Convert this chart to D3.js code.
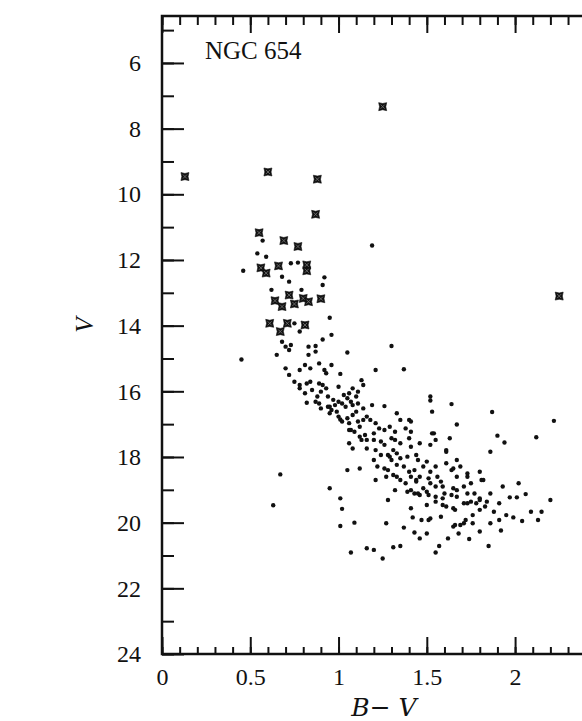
<!DOCTYPE html>
<html>
<head>
<meta charset="utf-8">
<script src="https://cdn.jsdelivr.net/npm/d3@7"></script>
<style>
  html, body { margin: 0; padding: 0; background: #fff; }
  svg { display: block; }
  text { font-family: "Liberation Serif", "DejaVu Serif", serif; fill: #111; }
</style>
</head>
<body>
<div id="chart"></div>
<script>
// NGC 654 colour-magnitude diagram, values as [B-V, V]
const clusterName = 'NGC 654';
const xTicksMajor = [0, 0.5, 1, 1.5, 2, 2.5];
const xTickLabels = ['0', '0.5', '1', '1.5', '2', ''];
const yTicksMajor = [6, 8, 10, 12, 14, 16, 18, 20, 22, 24];

// stars drawn with the big cross symbol
const brightStars = [
  [1.25, 7.33], [0.13, 9.46], [0.60, 9.32], [0.88, 9.54], [0.87, 10.61],
  [0.55, 11.17], [0.69, 11.41], [0.77, 11.59], [0.56, 12.24], [0.59, 12.40],
  [0.66, 12.18], [0.82, 12.15], [0.82, 12.33], [0.90, 13.18], [2.25, 13.10],
  [0.64, 13.24], [0.68, 13.42], [0.72, 13.07], [0.75, 13.34], [0.80, 13.17],
  [0.83, 13.27], [0.61, 13.93], [0.67, 14.18], [0.71, 13.93], [0.81, 13.98]
];

// small dots, upper main sequence (V < 15.1)
const upperDots = [
  [1.19, 11.56], [0.57, 11.41], [0.54, 11.80], [0.59, 11.90], [0.46, 12.33],
  [0.73, 12.10], [0.77, 12.08], [0.68, 12.51], [0.72, 12.66], [0.92, 12.53],
  [0.91, 12.76], [0.62, 12.91], [0.79, 12.91], [0.95, 13.76], [0.96, 14.28],
  [0.91, 14.42], [0.75, 13.93], [0.78, 14.18], [0.68, 14.49], [0.70, 14.64],
  [0.72, 14.74], [0.73, 14.59], [0.83, 14.64], [0.87, 14.62], [0.83, 14.89],
  [0.87, 14.79], [0.65, 14.89], [1.05, 14.82], [1.30, 14.62], [0.45, 15.03]
];

// small dots, V 15.1 - 18.1
const middleDots = [
  [0.70, 15.30], [0.72, 15.50], [0.78, 15.35], [0.81, 15.20], [0.84, 15.30],
  [0.89, 15.15], [0.92, 15.35], [0.93, 15.45], [0.96, 15.20], [1.01, 15.47],
  [1.21, 15.35], [1.37, 15.33], [0.75, 15.71], [0.78, 15.81], [0.81, 16.06],
  [0.84, 15.71], [0.85, 15.96], [0.89, 15.76], [0.90, 16.01], [0.91, 15.81],
  [0.93, 15.91], [0.94, 16.16], [1.00, 15.86], [1.00, 16.32], [1.03, 16.11],
  [1.06, 16.06], [1.08, 15.91], [1.11, 16.01], [1.14, 15.81], [1.13, 15.66],
  [0.82, 16.35], [0.87, 16.32], [0.89, 16.37], [0.94, 16.47], [0.96, 16.57],
  [0.98, 16.42], [1.02, 16.37], [1.04, 16.47], [1.07, 16.32], [1.08, 16.42],
  [1.11, 16.37], [1.14, 16.52], [1.19, 16.42], [1.26, 16.45], [0.95, 16.67],
  [1.00, 16.77], [1.02, 16.92], [1.05, 16.82], [1.06, 16.97], [1.08, 16.72],
  [1.11, 16.92], [1.14, 16.87], [1.18, 16.87], [1.21, 16.97], [1.23, 17.13],
  [1.26, 17.18], [1.29, 17.08], [1.33, 16.67], [1.35, 16.87], [1.40, 16.87],
  [1.06, 17.18], [1.09, 17.23], [1.12, 17.38], [1.16, 17.48], [1.15, 17.33],
  [1.20, 17.48], [1.24, 17.53], [1.26, 17.63], [1.30, 17.43], [1.31, 17.79],
  [1.33, 17.89], [1.06, 17.58], [1.08, 17.74], [1.16, 17.74], [1.21, 17.79],
  [1.24, 17.94], [1.28, 17.94], [1.30, 18.09], [1.52, 16.16], [1.52, 16.28],
  [1.53, 16.62], [1.64, 16.39], [1.67, 17.01], [1.32, 17.23], [1.38, 17.13],
  [1.41, 17.23], [1.54, 17.28], [1.35, 17.58], [1.40, 17.43], [1.41, 17.69],
  [1.46, 17.58], [1.52, 17.63], [1.55, 17.48], [1.61, 17.79], [1.63, 17.43],
  [1.35, 18.04], [1.39, 17.99], [1.44, 17.94], [1.94, 17.56], [1.86, 17.84],
  [1.90, 17.35], [2.12, 17.40], [2.22, 16.90], [1.87, 16.63]
];

// small dots, lower main sequence (V > 18.1)
const lowerDots = [
  [1.50, 18.14], [1.55, 18.29], [1.61, 18.19], [1.67, 18.09], [1.69, 18.29],
  [1.20, 18.09], [1.22, 18.29], [1.26, 18.35], [1.33, 18.24], [1.37, 18.29],
  [1.40, 18.45], [1.43, 18.40], [1.46, 18.60], [1.48, 18.29], [1.52, 18.45],
  [1.56, 18.60], [1.58, 18.75], [1.64, 18.40], [1.67, 18.60], [1.73, 18.60],
  [1.05, 18.40], [1.12, 18.35], [1.21, 18.70], [1.27, 18.60], [1.31, 18.55],
  [1.35, 18.70], [1.38, 18.80], [1.41, 18.60], [1.44, 18.75], [1.48, 18.95],
  [1.52, 18.80], [1.55, 18.90], [1.59, 18.90], [1.65, 18.95], [1.71, 18.90],
  [0.95, 18.95], [1.01, 19.26], [1.32, 19.01], [1.39, 19.06], [1.43, 19.11],
  [1.46, 19.16], [1.50, 19.06], [1.55, 19.21], [1.60, 19.11], [1.64, 19.16],
  [1.67, 19.01], [0.67, 18.53], [0.63, 19.47], [1.02, 19.58], [1.01, 20.10],
  [1.09, 20.00], [1.73, 18.50], [1.80, 18.45], [1.82, 18.70], [1.75, 18.80],
  [1.86, 19.11], [1.93, 18.90], [2.02, 18.80], [1.97, 19.23], [2.01, 19.23],
  [2.06, 19.13], [2.20, 19.31], [2.09, 19.67], [2.15, 19.67], [2.13, 19.92],
  [2.04, 19.95], [1.99, 19.84], [1.95, 19.77], [1.91, 19.41], [1.88, 19.67],
  [1.91, 19.92], [1.86, 20.02], [1.80, 20.27], [1.92, 20.24], [1.85, 20.71],
  [1.74, 20.50], [1.68, 20.33], [1.62, 20.48], [1.57, 20.71], [1.55, 20.91],
  [1.46, 20.48], [1.43, 20.30], [1.37, 20.15], [1.27, 20.02], [1.35, 20.71],
  [1.31, 20.75], [1.25, 21.09], [1.65, 20.12], [1.69, 20.07], [1.72, 19.92],
  [1.76, 19.77], [1.80, 19.61], [1.83, 19.51], [1.78, 19.41], [1.75, 19.36],
  [1.71, 19.41], [1.66, 19.61], [1.61, 19.51], [1.58, 19.82], [1.52, 19.87],
  [1.47, 19.92], [1.42, 19.84], [1.41, 19.56], [1.50, 19.46], [1.55, 19.36],
  [1.59, 19.26], [1.73, 19.11], [1.77, 19.11], [1.80, 19.26], [1.84, 19.36],
  [1.28, 19.31], [1.07, 20.91], [1.16, 20.78], [1.20, 20.83], [1.50, 20.33]
];

// extra stars inside the crowded band (overlapping blobs)
const bandDots = [
  [1.29, 17.99], [1.13, 17.48], [1.32, 17.48], [1.45, 18.09], [1.28, 18.40],
  [1.33, 18.60], [1.44, 18.70], [1.51, 18.65], [1.41, 19.01], [1.45, 19.11],
  [1.51, 19.16], [1.59, 19.46], [1.65, 19.56], [1.51, 19.92], [1.66, 20.07],
  [1.71, 20.02], [1.76, 20.02], [1.67, 19.21], [1.73, 19.41], [1.80, 19.31],
  [1.81, 18.70], [1.65, 18.35], [1.61, 17.84], [1.53, 17.28], [1.41, 16.92],
  [1.07, 17.18], [1.01, 16.86], [0.95, 16.47], [0.78, 15.91], [0.82, 15.76],
  [0.88, 16.16], [0.97, 16.26], [1.05, 16.21], [1.10, 16.16], [0.90, 16.52],
  [0.99, 16.62], [1.10, 16.62], [1.16, 16.77], [1.12, 17.08], [1.20, 17.28]
];

const width = 582, height = 721;
const plotLeft = 162, plotTop = 16, plotBottom = 654, plotRight = 621;

const svg = d3.select('#chart').append('svg')
  .attr('width', width)
  .attr('height', height);

const x = d3.scaleLinear().domain([0, 2.6]).range([plotLeft, plotRight]);
const y = d3.scaleLinear().domain([4.57, 24]).range([plotTop, plotBottom]);

const minorX = d3.range(0, 27).map(i => i / 10);
const minorY = d3.range(5, 25);

function styleAxis(g) {
  g.select('.domain').remove();
  g.selectAll('line').attr('stroke', '#111').attr('stroke-width', 2);
  g.selectAll('text').attr('font-size', 24).attr('fill', '#111')
    .style('font-family', '"Liberation Serif", serif');
}

// bottom axis (ticks point inward)
svg.append('g').attr('transform', `translate(0,${plotBottom})`)
  .call(d3.axisBottom(x).tickValues(minorX).tickSize(-7).tickFormat(''))
  .call(styleAxis);
svg.append('g').attr('transform', `translate(0,${plotBottom})`)
  .call(d3.axisBottom(x).tickValues(xTicksMajor).tickSize(-17).tickPadding(14)
    .tickFormat((d, i) => xTickLabels[i]))
  .call(styleAxis);

// top axis
svg.append('g').attr('transform', `translate(0,${plotTop})`)
  .call(d3.axisTop(x).tickValues(minorX).tickSize(-9).tickFormat(''))
  .call(styleAxis);
svg.append('g').attr('transform', `translate(0,${plotTop})`)
  .call(d3.axisTop(x).tickValues(xTicksMajor).tickSize(-17).tickFormat(''))
  .call(styleAxis);

// left axis
svg.append('g').attr('transform', `translate(${plotLeft},0)`)
  .call(d3.axisLeft(y).tickValues(minorY).tickSize(-12).tickFormat(''))
  .call(styleAxis);
svg.append('g').attr('transform', `translate(${plotLeft},0)`)
  .call(d3.axisLeft(y).tickValues(yTicksMajor).tickSize(-22).tickPadding(21)
    .tickFormat(d => String(d)))
  .call(styleAxis);

// frame
svg.append('rect')
  .attr('x', plotLeft).attr('y', plotTop)
  .attr('width', plotRight - plotLeft).attr('height', plotBottom - plotTop)
  .attr('fill', 'none').attr('stroke', '#111').attr('stroke-width', 2.5);

// dots
const dots = upperDots.concat(middleDots, lowerDots, bandDots);
svg.append('g').selectAll('circle')
  .data(dots)
  .join('circle')
  .attr('cx', d => x(d[0]))
  .attr('cy', d => y(d[1]))
  .attr('r', 2.2)
  .attr('fill', '#111');

// cross symbols: filled square with small notches on each side
const s = 4;
const n = 0.78;
const crossPath = `M${-s},${-s}L0,${-s * n}L${s},${-s}L${s * n},0L${s},${s}L0,${s * n}L${-s},${s}L${-s * n},0Z`;
const crosses = svg.append('g').selectAll('g')
  .data(brightStars)
  .join('g')
  .attr('transform', d => `translate(${x(d[0])},${y(d[1])})`);
crosses.append('path')
  .attr('d', crossPath)
  .attr('fill', '#111')
  .attr('stroke', '#111')
  .attr('stroke-width', 0.6);
crosses.append('path')
  .attr('d', `M${-s * 0.5},${-s * 0.5}L${s * 0.5},${s * 0.5}M${s * 0.5},${-s * 0.5}L${-s * 0.5},${s * 0.5}`)
  .attr('stroke', '#777')
  .attr('stroke-width', 0.8);

// labels
svg.append('text')
  .attr('x', 205).attr('y', 59)
  .attr('font-size', 25)
  .text(clusterName);

svg.append('text')
  .attr('transform', `translate(93,325) rotate(-90)`)
  .attr('text-anchor', 'middle')
  .attr('font-size', 25)
  .attr('font-style', 'italic')
  .text('V');

svg.append('text')
  .attr('x', 384).attr('y', 716)
  .attr('text-anchor', 'middle')
  .attr('font-size', 25)
  .attr('font-style', 'italic')
  .style('font-family', '"DejaVu Serif", serif')
  .text('B\u2212 V');
</script>
</body>
</html>
